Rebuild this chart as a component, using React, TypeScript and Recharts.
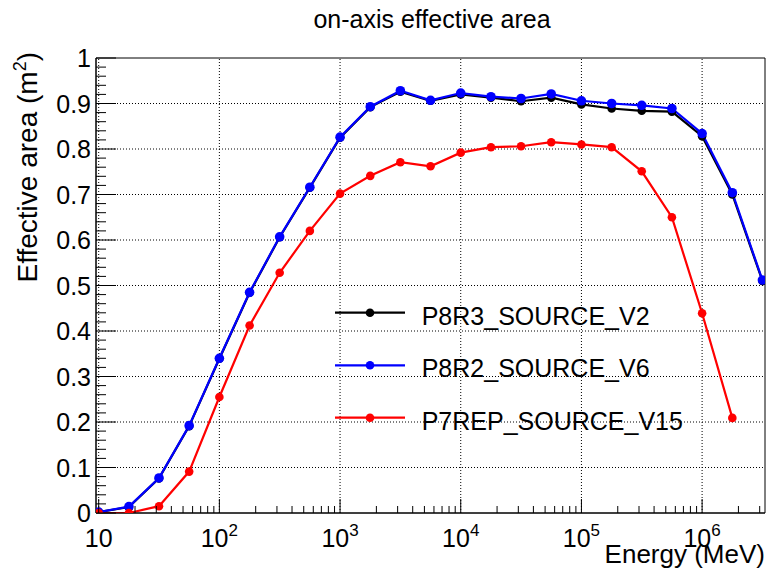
import React from "react";
import {
  LineChart,
  Line,
  XAxis,
  YAxis,
  ReferenceLine,
  ReferenceArea,
} from "recharts";

// energies in MeV, 4 bins per decade
const energies = [
  10, 17.8, 31.6, 56.2, 100, 178, 316, 562, 1000, 1780, 3160, 5620, 1e4,
  1.78e4, 3.16e4, 5.62e4, 1e5, 1.78e5, 3.16e5, 5.62e5, 1e6, 1.78e6, 3.16e6,
];

const p8r3Source = [
  0.002, 0.013, 0.076, 0.191, 0.339, 0.484, 0.606, 0.715, 0.825, 0.892, 0.926,
  0.906, 0.92, 0.913, 0.905, 0.913, 0.898, 0.889, 0.884, 0.882, 0.828, 0.7,
  0.51,
];

const p8r2Source = [
  0.002, 0.014, 0.077, 0.192, 0.34, 0.485, 0.607, 0.716, 0.826, 0.893, 0.928,
  0.907, 0.923, 0.915, 0.911, 0.921, 0.906, 0.9, 0.896, 0.889, 0.834, 0.704,
  0.512,
];

const p7repSource = [
  0, 0, 0.015, 0.091, 0.255, 0.412, 0.528, 0.62, 0.702, 0.741, 0.771, 0.762,
  0.792, 0.804, 0.806, 0.815, 0.81, 0.804, 0.751, 0.65, 0.439, 0.209, null,
];

const seriesNames = ["P8R3_SOURCE_V2", "P8R2_SOURCE_V6", "P7REP_SOURCE_V15"];
const seriesColors = ["#000000", "#0000ff", "#ff0000"];

const xMajorTicks = [10, 1e2, 1e3, 1e4, 1e5, 1e6];
const xMajorLabels = ["10", "2", "3", "4", "5", "6"];
const yMajorTicks = [0, 0.1, 0.2, 0.3, 0.4, 0.5, 0.6, 0.7, 0.8, 0.9, 1];
const yMajorLabels = ["0", "0.1", "0.2", "0.3", "0.4", "0.5", "0.6", "0.7", "0.8", "0.9", "1"];

const X_MIN = 9.5;
const X_MAX = 3.32e6;
const FONT = "'Liberation Sans', Arial, Helvetica, sans-serif";

const data = energies.map((e, i) => ({
  energy: e,
  p8r3: p8r3Source[i],
  p8r2: p8r2Source[i],
  p7rep: p7repSource[i],
}));

// minor ticks: 2..9 x 10^n inside the range
const xTicks: number[] = [];
for (let d = 1; d <= 6; d++) {
  for (let m = 1; m <= 9; m++) {
    const v = m * Math.pow(10, d);
    if (v >= X_MIN && v <= X_MAX) xTicks.push(v);
  }
}
const yTicks: number[] = [];
for (let i = 0; i <= 50; i++) yTicks.push(+(i * 0.02).toFixed(2));

const renderXTick = (props: any) => {
  const { x, y, payload } = props;
  const v = payload.value;
  const idx = xMajorTicks.findIndex((t) => Math.abs(t - v) / t < 1e-6);
  const major = idx >= 0;
  return (
    <g key={"xt" + v}>
      <line x1={x} x2={x} y1={y} y2={y - (major ? 14 : 7)} stroke="#000" strokeWidth={1} />
      {major &&
        (idx === 0 ? (
          <text x={x} y={y + 34} textAnchor="middle" fontSize={25} fontFamily={FONT} fill="#000">
            10
          </text>
        ) : (
          <text x={x} y={y + 34} textAnchor="middle" fontSize={25} fontFamily={FONT} fill="#000">
            10
            <tspan dy={-11} fontSize={17}>
              {xMajorLabels[idx]}
            </tspan>
          </text>
        ))}
    </g>
  );
};

const renderYTick = (props: any) => {
  const { x, y, payload } = props;
  const v = payload.value;
  const idx = yMajorTicks.findIndex((t) => Math.abs(t - v) < 1e-6);
  const major = idx >= 0;
  return (
    <g key={"yt" + v}>
      <line x1={x} x2={x + (major ? 20 : 10)} y1={y} y2={y} stroke="#000" strokeWidth={1} />
      {major && (
        <text x={x - 5} y={y + 9} textAnchor="end" fontSize={25} fontFamily={FONT} fill="#000">
          {yMajorLabels[idx]}
        </text>
      )}
    </g>
  );
};

const legendRows = [312.7, 365.3, 417.7];

export default function App() {
  return (
    <div style={{ position: "absolute", left: 0, top: 0, width: 766, height: 570, background: "#fff" }}>
      <LineChart
        width={766}
        height={570}
        data={data}
        margin={{ top: 58, right: 1, bottom: 0, left: 0 }}
      >
        <XAxis
          dataKey="energy"
          type="number"
          scale="log"
          domain={[X_MIN, X_MAX]}
          allowDataOverflow
          ticks={xTicks}
          interval={0}
          tickSize={0}
          tickMargin={0}
          tickLine={false}
          height={57}
          axisLine={{ stroke: "#000", strokeWidth: 1 }}
          tick={renderXTick}
        />
        <YAxis
          type="number"
          domain={[0, 1]}
          allowDataOverflow
          ticks={yTicks}
          interval={0}
          tickSize={0}
          tickMargin={0}
          tickLine={false}
          width={96}
          axisLine={{ stroke: "#000", strokeWidth: 1 }}
          tick={renderYTick}
        />
        {xMajorTicks.map((t) => (
          <ReferenceLine key={"gx" + t} x={t} stroke="#000" strokeDasharray="1 2" strokeWidth={1} />
        ))}
        {yMajorTicks.slice(1, -1).map((t) => (
          <ReferenceLine key={"gy" + t} y={t} stroke="#000" strokeDasharray="1 2" strokeWidth={1} />
        ))}
        <ReferenceArea x1={X_MIN} x2={X_MAX} y1={0} y2={1} fill="none" stroke="#000" strokeWidth={1} />
        <Line
          dataKey="p8r3"
          stroke={seriesColors[0]}
          strokeWidth={2.2}
          dot={{ r: 4.3, fill: seriesColors[0], stroke: seriesColors[0], strokeWidth: 0 }}
          isAnimationActive={false}
        />
        <Line
          dataKey="p8r2"
          stroke={seriesColors[1]}
          strokeWidth={2.2}
          dot={{ r: 4.8, fill: seriesColors[1], stroke: seriesColors[1], strokeWidth: 0 }}
          isAnimationActive={false}
        />
        <Line
          dataKey="p7rep"
          stroke={seriesColors[2]}
          strokeWidth={2.2}
          dot={{ r: 4.3, fill: seriesColors[2], stroke: seriesColors[2], strokeWidth: 0 }}
          isAnimationActive={false}
        />
      </LineChart>
      <svg
        width={766}
        height={570}
        style={{ position: "absolute", left: 0, top: 0, pointerEvents: "none" }}
        fontFamily={FONT}
      >
        <text x={432} y={28} textAnchor="middle" fontSize={25} fill="#000">
          on-axis effective area
        </text>
        <text x={765} y={563} textAnchor="end" fontSize={26} fill="#000">
          Energy (MeV)
        </text>
        <text
          transform="translate(37,52) rotate(-90)"
          textAnchor="end"
          fontSize={28}
          fill="#000"
        >
          Effective area (m
          <tspan dy={-11} fontSize={18}>
            2
          </tspan>
          <tspan dy={11}>)</tspan>
        </text>
        {legendRows.map((ry, i) => (
          <g key={seriesNames[i]}>
            <line x1={335} x2={405} y1={ry} y2={ry} stroke={seriesColors[i]} strokeWidth={2.2} />
            <circle cx={370} cy={ry} r={4.3} fill={seriesColors[i]} />
            <text x={421.7} y={ry + 12} fontSize={25} fill="#000">
              {seriesNames[i]}
            </text>
          </g>
        ))}
      </svg>
    </div>
  );
}
